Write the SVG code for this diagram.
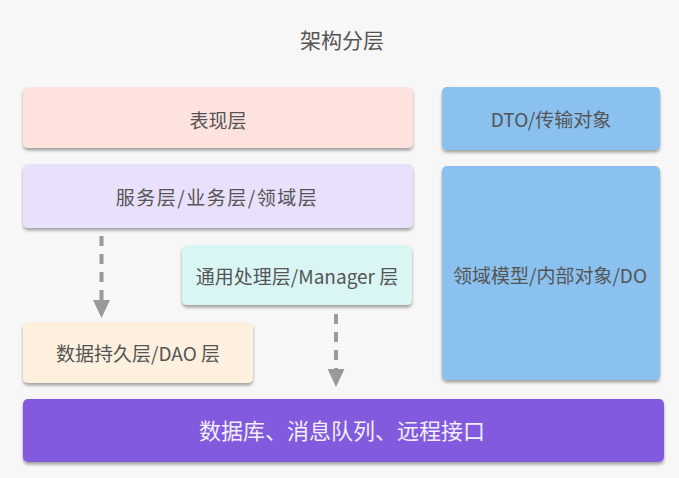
<svg xmlns="http://www.w3.org/2000/svg" width="679" height="478" viewBox="0 0 679 478">
<defs>
<filter id="sh" x="-10%" y="-20%" width="120%" height="150%">
<feDropShadow dx="0" dy="2.5" stdDeviation="1.5" flood-color="#000" flood-opacity="0.35"/>
</filter>
<marker id="ah" markerUnits="userSpaceOnUse" markerWidth="18" markerHeight="17" refX="0" refY="8.5" orient="auto" viewBox="0 0 18 17">
<path d="M0,0 L18,8.5 L0,17 z" fill="#9a9a9a"/>
</marker>
<style>
text{font-family:"Noto Sans CJK SC","Noto Sans",sans-serif;fill:#555;text-anchor:middle;font-size:19px}
.box{filter:url(#sh)}
.conn{stroke:#9a9a9a;stroke-width:4;fill:none;stroke-dasharray:10 8;marker-end:url(#ah)}
</style>
</defs>
<rect width="679" height="478" fill="#f7f7f7"/>
<text x="342" y="48" style="font-size:21px">架构分层</text>
<g id="presentation">
<rect class="box" x="23" y="87" width="390" height="61" rx="5" fill="#fde2de"/>
<text x="218" y="128">表现层</text>
</g>
<g id="service">
<rect class="box" x="23" y="164" width="390" height="64" rx="5" fill="#e9e0fb"/>
<text x="217" y="205" letter-spacing="1.5">服务层/业务层/领域层</text>
</g>
<g id="manager">
<rect class="box" x="182" y="245" width="230" height="60" rx="5" fill="#d9f5f4"/>
<text x="297" y="283.5">通用处理层/Manager 层</text>
</g>
<g id="dao">
<rect class="box" x="23" y="322" width="230" height="61" rx="5" fill="#fdf0de"/>
<text x="138" y="361">数据持久层/DAO 层</text>
</g>
<g id="dto">
<rect class="box" x="442" y="87" width="218" height="63" rx="5" fill="#8bc1ef"/>
<text x="551" y="126.5">DTO/传输对象</text>
</g>
<g id="do">
<rect class="box" x="442" y="166" width="218" height="214" rx="5" fill="#8bc1ef"/>
<text x="550" y="282.5">领域模型/内部对象/DO</text>
</g>
<g id="infra">
<rect class="box" x="23" y="399" width="641" height="63" rx="5" fill="#825ade"/>
<text x="342" y="439" style="font-size:22px;fill:#f3eefd">数据库、消息队列、远程接口</text>
</g>
<g id="connectors">
<line class="conn" x1="101.5" y1="236" x2="101.5" y2="300"/>
<line class="conn" x1="336" y1="314" x2="336" y2="369"/>
</g>
</svg>
